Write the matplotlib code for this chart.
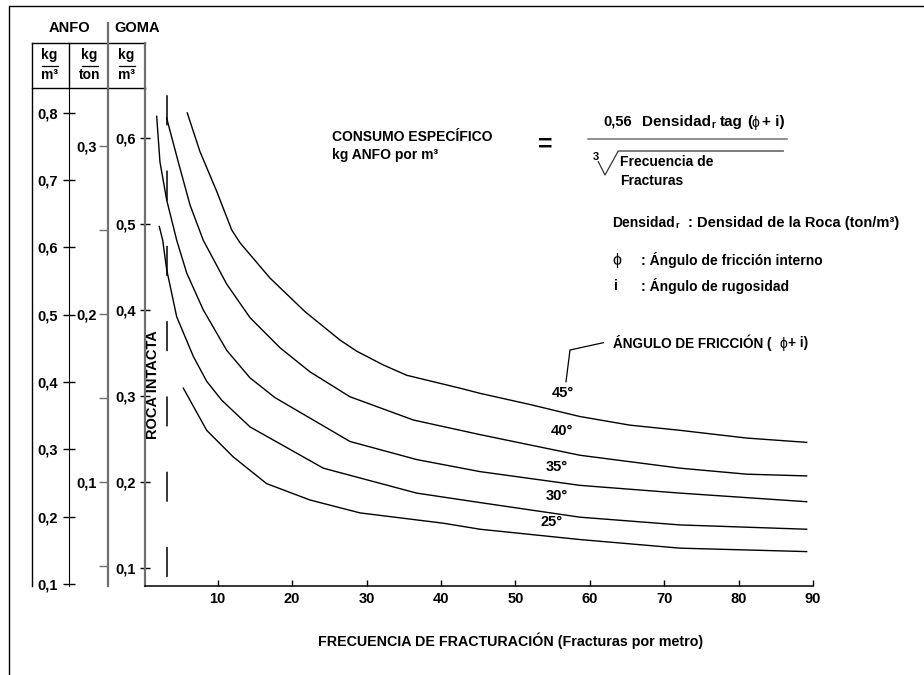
import matplotlib
matplotlib.use("Agg")
import matplotlib.pyplot as plt
from matplotlib.lines import Line2D

plt.rcParams["font.family"] = ["Liberation Sans", "DejaVu Sans"]
plt.rcParams["font.weight"] = "bold"
plt.rcParams["lines.scale_dashes"] = False
plt.rcParams["lines.solid_joinstyle"] = "round"

# curvas: frecuencia de fracturas (fract/m) vs consumo especifico (escala GOMA, kg/m3)
frec_25 = [5.38, 8.52, 12.10, 16.58, 22.40, 29.12, 40.32, 45.25, 58.69, 72.13, 89.15]
cons_25 = [0.309, 0.260, 0.229, 0.198, 0.179, 0.164, 0.152, 0.145, 0.133, 0.123, 0.119]
frec_30 = [2.15, 2.61, 3.14, 4.49, 6.72, 8.52, 10.54, 14.34, 24.19, 36.74, 45.25, 58.69, 72.13, 89.15]
cons_30 = [0.497, 0.481, 0.447, 0.392, 0.346, 0.317, 0.295, 0.264, 0.216, 0.187, 0.176, 0.159, 0.150, 0.145]
frec_35 = [1.80, 2.24, 3.14, 4.49, 5.83, 8.06, 11.21, 14.34, 17.70, 27.78, 36.74, 45.25, 58.69, 72.13, 89.15]
cons_35 = [0.625, 0.572, 0.528, 0.481, 0.443, 0.400, 0.353, 0.321, 0.298, 0.247, 0.226, 0.212, 0.196, 0.187, 0.177]
frec_40 = [3.14, 4.70, 6.28, 8.06, 11.21, 14.34, 18.37, 22.40, 27.78, 36.29, 45.25, 58.69, 72.13, 81.09, 89.15]
cons_40 = [0.623, 0.572, 0.522, 0.481, 0.430, 0.391, 0.356, 0.328, 0.299, 0.272, 0.255, 0.231, 0.216, 0.209, 0.207]
frec_45 = [5.91, 7.62, 9.86, 11.88, 13.00, 17.03, 21.73, 26.43, 28.68, 32.25, 35.40, 42.56, 45.25,
           51.97, 58.69, 65.41, 72.13, 81.09, 89.15]
cons_45 = [0.629, 0.584, 0.538, 0.493, 0.478, 0.437, 0.398, 0.365, 0.352, 0.336, 0.324, 0.309, 0.303,
           0.290, 0.276, 0.266, 0.260, 0.251, 0.246]
angulos = ["25°", "30°", "35°", "40°", "45°"]

frec_ticks = [10, 20, 30, 40, 50, 60, 70, 80, 90]
goma_ticks = [0.1, 0.2, 0.3, 0.4, 0.5, 0.6]
anfo_ticks = [0.1, 0.2, 0.3, 0.4, 0.5, 0.6, 0.7, 0.8]
ton_ticks = [0.1, 0.2, 0.3]
ton_minor = [0.05, 0.15, 0.25]
roca_intacta = 3.15

W, H = 924, 675
GREY = "#707070"


def fx(px):
    return px / W


def fy(py):
    return 1 - py / H


def fline(xs, ys, color="black", lw=1.0):
    fig.add_artist(Line2D([fx(x) for x in xs], [fy(y) for y in ys],
                          transform=fig.transFigure, color=color, lw=lw))


def ftext(px, py, s, **kw):
    kw.setdefault("va", "center")
    kw.setdefault("size", 10.5)
    fig.text(fx(px), fy(py), s, **kw)


def coma(v):
    return f"{v:.1f}".replace(".", ",")


fig = plt.figure(figsize=(9.24, 6.75), dpi=100)

# ejes principales (escala GOMA kg/m3 a la izquierda)
ax = fig.add_axes([fx(145), fy(586), (813 - 145) / W, (586 - 88) / H])
ax.set_xlim(0.23, 90)
ax.set_ylim(0.079, 0.658)
for s in ["top", "right"]:
    ax.spines[s].set_visible(False)
ax.spines["left"].set_color(GREY)
ax.spines["left"].set_linewidth(1.6)
ax.spines["bottom"].set_linewidth(1.1)
ax.set_xticks(frec_ticks)
ax.set_xticklabels([str(t) for t in frec_ticks])
ax.set_yticks(goma_ticks)
ax.set_yticklabels([coma(t) for t in goma_ticks])
ax.tick_params(axis="x", direction="in", length=4.5, width=1, pad=4.2, labelsize=10.5)
ax.tick_params(axis="y", direction="inout", length=7, width=1, pad=3.3, labelsize=10.5)

# escala ANFO kg/m3
ax_anfo = fig.add_axes([fx(69.3), fy(586), 0.0001, (586 - 88) / H])
ax_anfo.set_ylim(0.097, 0.837)
ax_anfo.set_yticks(anfo_ticks)
ax_anfo.set_yticklabels([coma(t) for t in anfo_ticks])
ax_anfo.tick_params(axis="y", direction="inout", length=8, width=1, pad=4.2, labelsize=10.5)

# escala ANFO kg/ton
ax_ton = fig.add_axes([fx(108.3), fy(586), 0.0001, (586 - 88) / H])
ax_ton.set_ylim(0.0384, 0.3343)
ax_ton.set_yticks(ton_ticks)
ax_ton.set_yticklabels([coma(t) for t in ton_ticks])
ax_ton.set_yticks(ton_minor, minor=True)
ax_ton.tick_params(axis="y", which="both", direction="out", length=6.5, width=1, pad=2.0,
                   labelsize=10.5, color=GREY)
ax_ton.spines["left"].set_color(GREY)
ax_ton.spines["left"].set_linewidth(1.6)

for a in (ax_anfo, ax_ton):
    a.set_facecolor("none")
    a.set_xticks([])
    for s in ["top", "right", "bottom"]:
        a.spines[s].set_visible(False)

# curvas
curvas = [(frec_25, cons_25), (frec_30, cons_30), (frec_35, cons_35),
          (frec_40, cons_40), (frec_45, cons_45)]
for f, c in curvas:
    ax.plot(f, c, color="black", lw=1.0)

ax.axvline(roca_intacta, color="black", lw=1.1, linestyle=(47.7, (21.6, 32.6)))
ax.text(1.3, 0.313, "ROCA INTACTA", rotation=90, ha="center", va="center", size=10.5)

# marco y tabla de unidades
fline([9.3, 9.3, W], [H, 6, 6], lw=1.0)
fline([31.7, 145], [42.7, 42.7])
fline([31.7, 145], [87.7, 87.7])
fline([31.7, 31.7], [42.7, 586])
fline([69.3, 69.3], [42.7, 88])
fline([108.3, 108.3], [23, 88], color=GREY, lw=1.6)
fline([145, 145], [42.7, 88], color=GREY, lw=1.6)

ftext(69.3, 28, "ANFO", ha="center")
ftext(137, 28, "GOMA", ha="center")
for cx, den in [(49.5, "m³"), (89.5, "ton"), (126.5, "m³")]:
    ftext(cx, 55, "kg", ha="center", size=10)
    ftext(cx, 75, den, ha="center", size=10)
    fline([cx - 8, cx + 8], [65.5, 65.5], lw=0.9)

# formula
ftext(331.7, 136.7, "CONSUMO ESPECÍFICO", size=10)
ftext(331.7, 155, "kg ANFO por m³", size=10)
ftext(545, 145, "=", ha="center", size=18)
ftext(603, 121.7, "0,56", size=10.5)
ftext(641.7, 121.7, "Densidad", size=11)
ftext(711.5, 125.5, "r", size=7)
ftext(720, 121.7, "tag", size=11)
ftext(747, 121.7, "(", size=11)
ftext(752, 123, "ϕ", size=10, fontweight="normal")
ftext(761.5, 121.7, "+ i)", size=11)
fline([588, 787], [139.3, 139.3], color=GREY, lw=1.1)
ftext(596, 156.5, "3", ha="center", size=8)
fline([598.3, 605, 618.3, 783.3], [161.7, 175, 151, 151], color="#333333", lw=0.9)
ftext(620, 161.5, "Frecuencia de", size=10)
ftext(620, 181, "Fracturas", size=10)

ftext(612, 223, "Densidad", size=10)
ftext(675, 226, "r", size=6.5)
ftext(688, 223, ": Densidad de la Roca (ton/m³)", size=10.5)
ftext(617, 260, "ϕ", ha="center", size=11.5, fontweight="normal")
ftext(641, 260, ": Ángulo de fricción interno", size=10)
ftext(614, 286, "i", size=10)
ftext(641, 286, ": Ángulo de rugosidad", size=10)

# etiquetas de las curvas
for lab, (px, py) in zip(angulos, [(551.7, 521.7), (556.7, 495.7), (556.7, 466.7),
                                   (561.7, 431), (562.7, 392.7)]):
    ftext(px, py, lab, ha="center", size=10.5)
fline([566, 570, 603.3], [381.7, 350, 342.7], lw=0.9)
ftext(613.3, 342.7, "ÁNGULO DE FRICCIÓN (", size=9.8)
ftext(779, 344, "ϕ", size=10, fontweight="normal")
ftext(788.5, 342.7, "+ i)", size=9.8)

ftext(511, 641, "FRECUENCIA DE FRACTURACIÓN (Fracturas por metro)", ha="center", size=10.3)

fig.savefig("out.png", dpi=100)
